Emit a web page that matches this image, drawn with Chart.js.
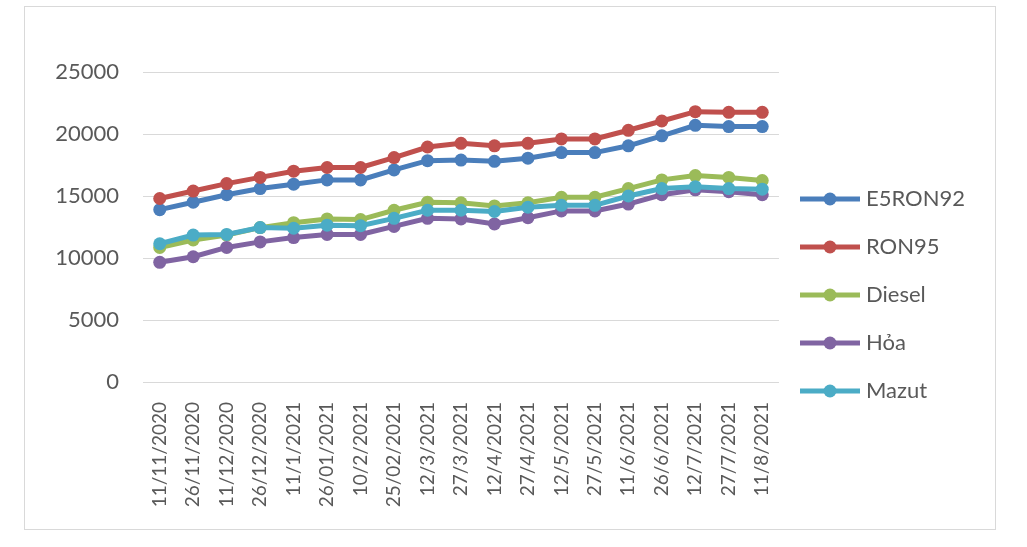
<!DOCTYPE html>
<html>
<head>
<meta charset="utf-8">
<script src="https://cdn.jsdelivr.net/npm/chart.js@4/dist/chart.umd.min.js"></script>
<style>
  body { margin: 0; background: #fff; }
  #frame { position: absolute; left: 24px; top: 6px; width: 970px; height: 522px; border: 1px solid #d9d9d9; }
  #c { position: absolute; left: 0; top: 0; }
</style>
</head>
<body>
<div id="frame"></div>
<canvas id="c" width="1027" height="547"></canvas>
<script>
var dates = ['11/11/2020', '26/11/2020', '11/12/2020', '26/12/2020', '11/1/2021', '26/01/2021', '10/2/2021', '25/02/2021', '12/3/2021', '27/3/2021', '12/4/2021', '27/4/2021', '12/5/2021', '27/5/2021', '11/6/2021', '26/6/2021', '12/7/2021', '27/7/2021', '11/8/2021'];

var e5ron92 = [13900, 14500, 15100, 15600, 15950, 16300, 16300, 17100, 17850, 17900, 17800, 18050, 18500, 18500, 19050, 19850, 20700, 20600, 20600];
var ron95 = [14800, 15400, 16000, 16500, 17000, 17300, 17300, 18100, 18950, 19250, 19050, 19250, 19600, 19600, 20300, 21050, 21800, 21750, 21750];
var diesel = [10850, 11450, 11850, 12450, 12850, 13150, 13100, 13850, 14500, 14450, 14200, 14450, 14900, 14900, 15600, 16300, 16650, 16500, 16250];
var hoa = [9650, 10100, 10850, 11300, 11650, 11900, 11900, 12550, 13200, 13150, 12750, 13250, 13800, 13800, 14350, 15100, 15500, 15350, 15100];
var mazut = [11150, 11850, 11900, 12450, 12400, 12650, 12600, 13200, 13850, 13850, 13750, 14100, 14250, 14250, 15000, 15600, 15750, 15600, 15550];

var names = ['E5RON92', 'RON95', 'Diesel', 'Hỏa', 'Mazut'];
var colors = ['#4a7ebb', '#c0504d', '#9bbb59', '#8064a2', '#4bacc6'];
var series = [e5ron92, ron95, diesel, hoa, mazut];

// legend icon: line with a dot in the middle
function makeIcon(col) {
   var cv = document.createElement('canvas');
   cv.width = 60; cv.height = 16;
   var g = cv.getContext('2d');
   g.strokeStyle = col; g.lineWidth = 5;
   g.beginPath(); g.moveTo(0, 8); g.lineTo(60, 8); g.stroke();
   g.fillStyle = col;
   g.beginPath(); g.arc(30, 8, 6.5, 0, Math.PI * 2); g.fill();
   return cv;
}

Chart.defaults.font.family = 'Lato, "Open Sans", sans-serif';
Chart.defaults.font.size = 22;
Chart.defaults.color = '#595959';

var chart = new Chart(document.getElementById('c'), {
   type: 'line',
   data: {
      labels: dates,
      datasets: series.map(function (d, i) {
         return {
            label: names[i],
            data: d,
            borderColor: colors[i],
            backgroundColor: colors[i],
            borderWidth: 5,
            pointRadius: 6.5,
            pointBorderWidth: 0,
            pointBackgroundColor: colors[i],
            tension: 0,
            order: 4 - i
         };
      })
   },
   options: {
      responsive: false,
      animation: false,
      layout: { padding: { top: 72, left: 0, right: 52, bottom: 29 } },
      plugins: {
         tooltip: { enabled: false },
         legend: {
            position: 'right',
            labels: {
               usePointStyle: true,
               pointStyleWidth: 50,
               padding: 26,
               sort: function (a, b) { return a.datasetIndex - b.datasetIndex; },
               generateLabels: function (ch) {
                  var items = Chart.defaults.plugins.legend.labels.generateLabels(ch);
                  items.forEach(function (it) {
                     it.pointStyle = makeIcon(colors[it.datasetIndex]);
                  });
                  return items;
               }
            }
         }
      },
      scales: {
         x: {
            offset: true,
            grid: { display: false },
            border: { display: false },
            ticks: { minRotation: 90, maxRotation: 90, padding: 12, autoSkip: false, font: { size: 19 } },
            afterFit: function (s) { s.height = 136; }
         },
         y: {
            min: 0,
            max: 25000,
            ticks: {
               stepSize: 5000,
               padding: 24,
               font: { size: 22 },
               callback: function (v) { return String(v); }
            },
            grid: { color: '#d9d9d9', lineWidth: 1, drawTicks: false },
            border: { display: false },
            afterFit: function (s) { s.width = 143; }
         }
      }
   }
});
</script>
</body>
</html>
